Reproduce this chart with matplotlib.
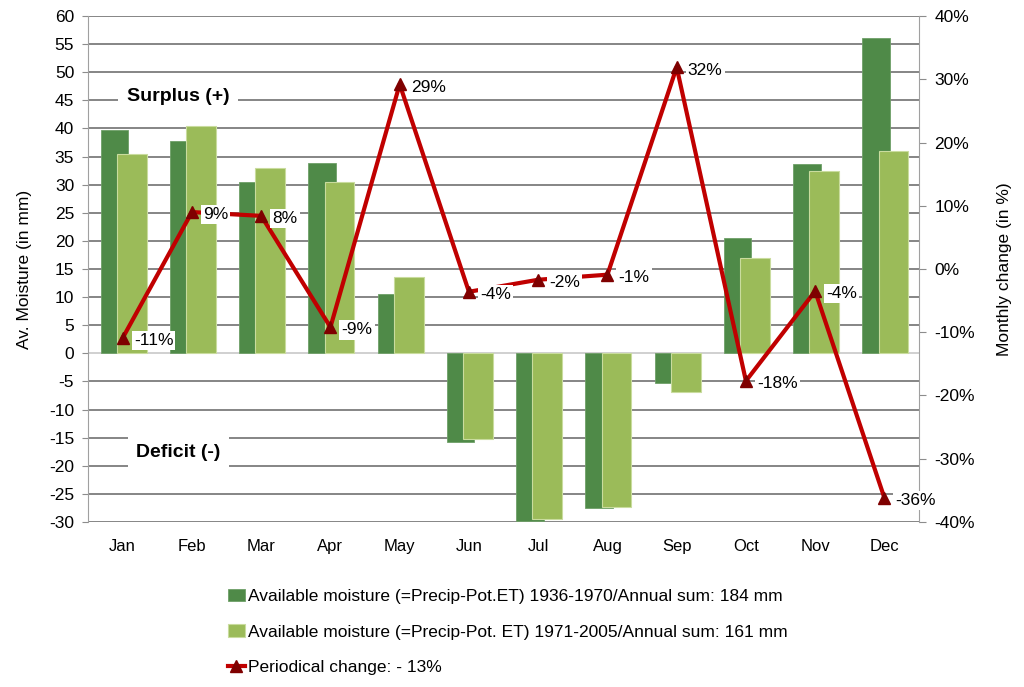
import numpy as np
import matplotlib.pyplot as plt
from matplotlib.ticker import FuncFormatter

plt.rcParams['font.family'] = ['Liberation Sans', 'DejaVu Sans']
plt.rcParams['axes.unicode_minus'] = False

months = ['Jan', 'Feb', 'Mar', 'Apr', 'May', 'Jun', 'Jul', 'Aug', 'Sep', 'Oct', 'Nov', 'Dec']
moist_1936_1970 = [39.8, 37.8, 30.5, 33.8, 10.5, -15.8, -29.8, -27.5, -5.3, 20.5, 33.7, 56.0]
moist_1971_2005 = [35.5, 40.5, 33.0, 30.5, 13.5, -15.3, -29.5, -27.3, -6.8, 17.0, 32.5, 36.0]
change_pct = [-10.9, 9.0, 8.4, -9.2, 29.2, -3.6, -1.7, -0.9, 31.9, -17.7, -3.5, -36.2]
change_lbl = ['-11%', '9%', '8%', '-9%', '29%', '-4%', '-2%', '-1%', '32%', '-18%', '-4%', '-36%']

dark = '#4f8a48'
light = '#9bbb59'
red = '#c00000'

fig = plt.figure(figsize=(10.24, 6.87), dpi=100)
ax = fig.add_axes([0.086, 0.2402, 0.8115, 0.7365])
ax2 = ax.twinx()

x = np.arange(len(months))
ax.bar(x - 0.12, moist_1936_1970, width=0.40, color=dark, edgecolor='#6f9f68', linewidth=0.6, zorder=2,
       label='Available moisture (=Precip-Pot.ET) 1936-1970/Annual sum: 184 mm')
ax.bar(x + 0.13, moist_1971_2005, width=0.43, color=light, edgecolor='#c9dc9e', linewidth=0.8, zorder=3,
       label='Available moisture (=Precip-Pot. ET) 1971-2005/Annual sum: 161 mm')

ax.set_xlim(-0.5, 11.5)
ax.set_ylim(-30, 60)
ax.set_yticks(np.arange(-30, 61, 5))
ax.set_xticks(x)
ax.set_xticklabels(months)
ax.tick_params(axis='x', length=0, pad=12, labelsize=12)
ax.tick_params(axis='y', length=4, color='#8c8c8c', labelsize=12.5, pad=6)
for v in np.arange(-30, 61, 5):
    ax.axhline(v, color='#d0d0d0' if v == 0 else '#858585', lw=1.4, zorder=1)
for s in ['top', 'bottom', 'right']:
    ax.spines[s].set_visible(False)
ax.spines['left'].set_color('#a0a0a0')
ax.set_ylabel('Av. Moisture (in mm)', fontsize=12.5, labelpad=12)

ax.text(0.8, 45.6, 'Surplus (+)', fontsize=14, fontweight='bold', ha='center', va='center',
        bbox=dict(facecolor='white', edgecolor='none', pad=6), zorder=4)
ax.text(0.8, -17.7, 'Deficit (-)', fontsize=14, fontweight='bold', ha='center', va='center',
        bbox=dict(facecolor='white', edgecolor='none', pad=6), zorder=4)

ax2.plot(x, change_pct, color=red, lw=3, marker='^', markersize=8,
         markerfacecolor='#7f0000', markeredgecolor='#7f0000', zorder=5,
         label='Periodical change: - 13%')
ax2.set_ylim(-40, 40)
ax2.set_yticks(np.arange(-40, 41, 10))
ax2.yaxis.set_major_formatter(FuncFormatter(lambda v, p: '%d%%' % v))
ax2.tick_params(axis='y', length=5, color='#8c8c8c', labelsize=12.5, pad=6)
for s in ['top', 'bottom', 'left']:
    ax2.spines[s].set_visible(False)
ax2.spines['right'].set_color('#a0a0a0')
ax2.set_ylabel('Monthly change (in %)', fontsize=12.5, labelpad=16)

for xi, yi, lb in zip(x, change_pct, change_lbl):
    ax2.annotate(lb, (xi, yi), xytext=(8, -2), textcoords='offset points', fontsize=12.5,
                 ha='left', va='center', zorder=6,
                 bbox=dict(facecolor='white', edgecolor='none', pad=1.5))

ax.set_zorder(ax2.get_zorder() - 1)
ax2.patch.set_visible(False)

h1, l1 = ax.get_legend_handles_labels()
h2, l2 = ax2.get_legend_handles_labels()
fig.legend(h1 + h2, l1 + l2, loc='upper left', bbox_to_anchor=(0.207, 0.165), frameon=False,
           fontsize=12.5, labelspacing=1.15, handlelength=1.0, handletextpad=0.2)

fig.savefig('out.png', dpi=100)
